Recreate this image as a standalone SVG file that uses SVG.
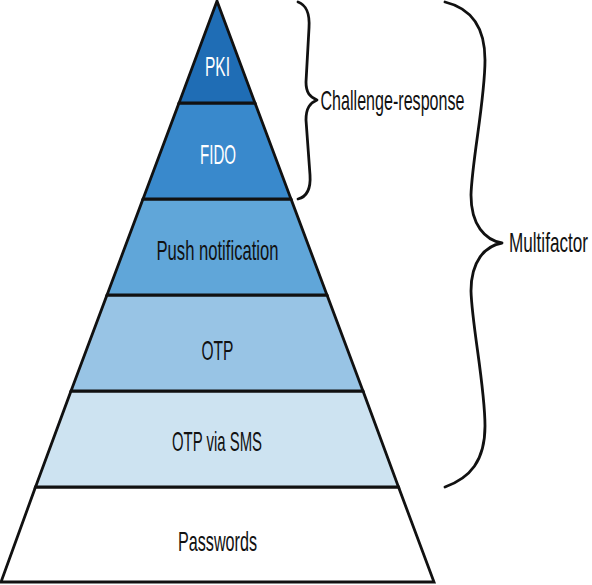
<svg xmlns="http://www.w3.org/2000/svg" width="592" height="585" viewBox="0 0 592 585">
<style>
.lay{stroke:#111;stroke-width:2.8;stroke-linejoin:miter}
.t{font-family:"Liberation Sans",Arial,sans-serif;font-size:28px;text-anchor:middle}
.w{fill:#fff}
.d{fill:#111}
.br{fill:none;stroke:#111;stroke-width:2.8;stroke-linecap:round;stroke-linejoin:round}
.lbl{font-family:"Liberation Sans",Arial,sans-serif;font-size:28px;fill:#111}
</style>
<rect width="592" height="585" fill="#fff"/>
<g id="passwords">
<polygon class="lay" fill="#ffffff" points="35.5,487 398.5,487 434,582 1,582"/>
<text class="t d" x="217.5" y="551" textLength="79" lengthAdjust="spacingAndGlyphs">Passwords</text>
</g>
<g id="otp-sms">
<polygon class="lay" fill="#cde3f1" points="71,391 363,391 398.5,487 35.5,487"/>
<text class="t d" x="217" y="451" textLength="90" lengthAdjust="spacingAndGlyphs">OTP via SMS</text>
</g>
<g id="otp">
<polygon class="lay" fill="#98c4e5" points="107,295 327,295 363,391 71,391"/>
<text class="t d" x="217.5" y="360" textLength="32" lengthAdjust="spacingAndGlyphs">OTP</text>
</g>
<g id="push">
<polygon class="lay" fill="#60a6d9" points="143,199 291,199 327,295 107,295"/>
<text class="t d" x="217.5" y="260" textLength="122" lengthAdjust="spacingAndGlyphs">Push notification</text>
</g>
<g id="fido">
<polygon class="lay" fill="#3989cc" points="179,103 255,103 291,199 143,199"/>
<text class="t w" x="218" y="164" textLength="36" lengthAdjust="spacingAndGlyphs">FIDO</text>
</g>
<g id="pki">
<polygon class="lay" fill="#1f6db5" points="217,1 255,103 179,103"/>
<text class="t w" x="217.5" y="76" textLength="25" lengthAdjust="spacingAndGlyphs">PKI</text>
</g>
<g id="connectors">
<path class="br" d="M298,2 C306,5 310,12 309,28 L306,82 C306,93 310,97 317,100 C310,103 306,108 306,120 L310,175 C311,190 306,197 298,199"/>
<path class="br" d="M445,2 C470,8 485,25 485,60 C485,100 472,160 471,195 C471,225 485,240 502,243 C485,246 471,261 471,291 C472,326 485,386 485,426 C485,461 470,478 445,487"/>
</g>
<g id="challenge-response">
<text class="lbl" x="320.5" y="110" textLength="144" lengthAdjust="spacingAndGlyphs">Challenge-response</text>
</g>
<g id="multifactor">
<text class="lbl" x="509" y="252" textLength="79" lengthAdjust="spacingAndGlyphs">Multifactor</text>
</g>
</svg>
